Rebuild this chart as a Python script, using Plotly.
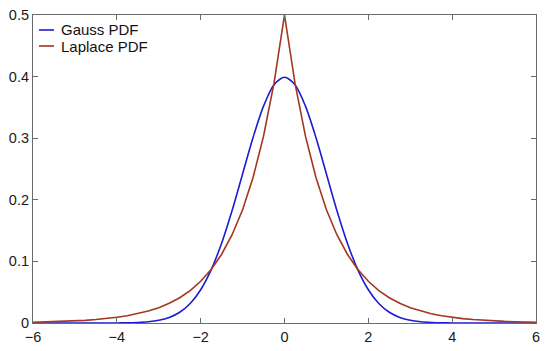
import plotly.graph_objects as go

x_vals = [-6.0, -5.75, -5.5, -5.25, -5.0, -4.75, -4.5, -4.25, -4.0, -3.75, -3.5, -3.25,
          -3.0, -2.75, -2.5, -2.25, -2.0, -1.75, -1.5, -1.25, -1.0, -0.75, -0.5, -0.25,
          0.0, 0.25, 0.5, 0.75, 1.0, 1.25, 1.5, 1.75, 2.0, 2.25, 2.5, 2.75, 3.0,
          3.25, 3.5, 3.75, 4.0, 4.25, 4.5, 4.75, 5.0, 5.25, 5.5, 5.75, 6.0]

gauss_pdf = [0.0, 0.0, 0.0, 0.0, 0.0, 0.0, 0.0, 0.0, 0.0001, 0.0004, 0.0009, 0.0020,
             0.0044, 0.0091, 0.0175, 0.0317, 0.0540, 0.0863, 0.1295, 0.1826, 0.2420, 0.3011, 0.3521, 0.3867,
             0.3989, 0.3867, 0.3521, 0.3011, 0.2420, 0.1826, 0.1295, 0.0863, 0.0540, 0.0317, 0.0175, 0.0091, 0.0044,
             0.0020, 0.0009, 0.0004, 0.0001, 0.0, 0.0, 0.0, 0.0, 0.0, 0.0, 0.0, 0.0]

laplace_pdf = [0.0012, 0.0016, 0.0020, 0.0026, 0.0034, 0.0043, 0.0056, 0.0071, 0.0092, 0.0118, 0.0151, 0.0194,
               0.0249, 0.0320, 0.0410, 0.0527, 0.0677, 0.0869, 0.1116, 0.1433, 0.1839, 0.2362, 0.3033, 0.3894,
               0.5000, 0.3894, 0.3033, 0.2362, 0.1839, 0.1433, 0.1116, 0.0869, 0.0677, 0.0527, 0.0410, 0.0320, 0.0249,
               0.0194, 0.0151, 0.0118, 0.0092, 0.0071, 0.0056, 0.0043, 0.0034, 0.0026, 0.0020, 0.0016, 0.0012]

x_ticks = [-6, -4, -2, 0, 2, 4, 6]
y_ticks = [0, 0.1, 0.2, 0.3, 0.4, 0.5]
series_names = ["Gauss PDF", "Laplace PDF"]
series_colors = ["#1c1cd4", "#a3361e"]

FONT = "Liberation Sans, Arial, sans-serif"
L, R, T, B = 33, 14, 15, 28
W, H = 550, 351
PW, PH = W - L - R, H - T - B

fig = go.Figure()
fig.add_trace(go.Scatter(x=x_vals, y=gauss_pdf, mode="lines", name=series_names[0],
                         line=dict(color=series_colors[0], width=1.6, shape="spline", smoothing=0.8),
                         showlegend=False))
fig.add_trace(go.Scatter(x=x_vals, y=laplace_pdf, mode="lines", name=series_names[1],
                         line=dict(color=series_colors[1], width=1.6),
                         showlegend=False))

# manual legend (MATLAB style, no box)
for i, (nm, col) in enumerate(zip(series_names, series_colors)):
    yy = 30 + 16 * i
    yp = 1 - (yy - T) / PH
    fig.add_shape(type="line", xref="paper", yref="paper",
                  x0=(39 - L) / PW, x1=(54 - L) / PW, y0=yp, y1=yp,
                  line=dict(color=col, width=1.6))
    fig.add_annotation(xref="paper", yref="paper", x=(59 - L) / PW, y=yp,
                       text=nm, showarrow=False, xanchor="left", yanchor="middle",
                       font=dict(size=15, color="#111111", family=FONT))

axis_common = dict(showline=True, linecolor="#6a6a6a", linewidth=1.2, mirror="ticks",
                   ticks="inside", ticklen=5, tickwidth=1.2, tickcolor="#6a6a6a",
                   showgrid=False, zeroline=False, automargin=False,
                   tickfont=dict(size=14.5, color="#1a1a1a", family=FONT))

fig.update_xaxes(range=[-6, 6], tickvals=x_ticks, **axis_common)
fig.update_yaxes(range=[0, 0.5], tickvals=y_ticks, **axis_common)

fig.update_layout(width=W, height=H, margin=dict(l=L, r=R, t=T, b=B, pad=0),
                  plot_bgcolor="white", paper_bgcolor="white")

fig.write_html("out.html", config={"displayModeBar": False},
               post_script="document.body.style.margin='0';")
